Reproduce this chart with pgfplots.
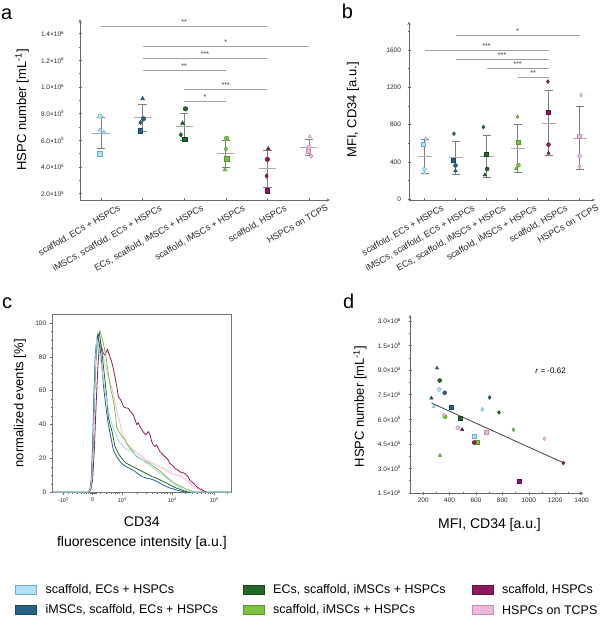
\documentclass[border=0pt]{standalone}
\usepackage{fontspec}
\setmainfont{Liberation Sans}
\usepackage{pgfplots}
\usepackage{pgfplotstable}
\pgfplotsset{compat=1.18}

% group colours (fill / outline)
\definecolor{cA}{RGB}{178,224,244}\definecolor{cAd}{RGB}{110,170,205}
\definecolor{cB}{RGB}{40,100,136}\definecolor{cBd}{RGB}{25,70,100}
\definecolor{cC}{RGB}{34,104,38}\definecolor{cCd}{RGB}{20,70,25}
\definecolor{cD}{RGB}{124,194,62}\definecolor{cDd}{RGB}{85,150,40}
\definecolor{cE}{RGB}{140,26,94}\definecolor{cEd}{RGB}{100,15,65}
\definecolor{cF}{RGB}{238,184,220}\definecolor{cFd}{RGB}{200,140,185}
\definecolor{axgray}{RGB}{105,105,105}
\definecolor{errgray}{RGB}{125,125,125}
\definecolor{meangray}{RGB}{170,170,170}
\definecolor{sigray}{RGB}{160,160,160}

% per replicate: marker shape, jitter in a, HSPC number, jitter in b, MFI
\pgfplotstableread{
shape dxa hspc dxb mfi
s -0.03 4.98e5 -0.03 590
c -0.02 7.82e5 0.00 322
t -0.02 6.78e5 0.00 281
d 0.07 6.60e5 0.05 648
}\gA
\pgfplotstableread{
shape dxa hspc dxb mfi
s -0.06 6.71e5 -0.06 414
c 0.02 7.62e5 0.00 363
t 0.00 9.13e5 0.00 305
d -0.05 7.33e5 -0.05 703
}\gB
\pgfplotstableread{
shape dxa hspc dxb mfi
s 0.01 6.08e5 0.00 479
c 0.03 8.37e5 0.02 325
t -0.04 7.29e5 -0.05 262
d -0.08 6.42e5 -0.10 774
}\gC
\pgfplotstableread{
shape dxa hspc dxb mfi
s 0.02 4.63e5 0.02 612
c 0.02 6.16e5 0.03 366
t -0.02 3.80e5 -0.04 327
d 0.00 5.36e5 0.00 884
}\gD
\pgfplotstableread{
shape dxa hspc dxb mfi
s 0.00 2.23e5 0.00 930
c 0.00 4.58e5 0.00 586
t 0.02 5.37e5 0.00 495
d -0.02 3.33e5 -0.02 1262
}\gE
\pgfplotstableread{
shape dxa hspc dxb mfi
s -0.02 5.24e5 -0.02 680
c 0.00 5.48e5 0.00 462
t 0.02 6.27e5 0.00 357
d 0.05 4.82e5 0.05 1118
}\gF
% group mean and standard deviation
\pgfplotstableread{
g mA sA mB sB
0 6.545e5 1.174e5 460.3 185.6
1 7.698e5 1.028e5 446.3 176.9
2 7.040e5 1.023e5 460.0 228.3
3 4.988e5 1.009e5 547.3 257.5
4 3.878e5 1.383e5 818.3 350.2
5 5.453e5 0.610e5 654.3 337.2
}\stats

% CD34 histograms (display position, normalized events)
\pgfplotstableread{
x y
52.7 0
88.7 0
90.3 2
91.7 8
93.0 25
94.3 55
95.7 80
96.7 91
98.0 88
99.7 82
101.7 74
103.3 67
105.0 60
107.0 54
109.0 47
111.0 42
113.3 38
116.0 34
119.0 30
122.0 28
125.0 26
128.3 25
131.7 24
135.0 22.5
138.3 21
141.7 19.5
145.0 18
148.3 16.5
151.7 15
155.0 13.5
158.3 12
161.7 10.5
165.0 9
168.3 7.5
171.7 6
175.0 4.5
178.3 3.3
181.7 2.2
185.0 1.3
188.3 0.6
192.0 0
231 0
}\hA
\pgfplotstableread{
x y
52.7 0
88.7 0
90.0 2
91.3 8
92.7 30
94.0 60
95.3 82
96.7 90
97.7 93
99.0 88
100.0 86
101.7 76
103.3 64
105.0 55
106.7 46.7
108.3 40
110.0 35
111.7 30
113.3 25
115.0 23
116.7 21
119.0 19
121.7 17
124.0 16
126.7 15
130.0 14
133.3 13
136.7 11.5
140.0 10
143.3 9
146.7 8.3
150.0 8
153.3 7.3
156.7 6.5
160.0 5.3
163.3 4.3
166.7 3.3
170.0 2.5
173.3 2
176.7 1.3
180.0 0.8
183.3 0.4
186.7 0
231 0
}\hB
\pgfplotstableread{
x y
52.7 0
88.7 0
90.3 2
91.7 8
93.0 28
94.3 58
95.7 80
97.0 90
99.3 94
100.3 90
101.7 84
103.3 75
105.0 66
106.7 56.5
108.3 44.7
110.0 40
111.7 36.8
113.3 32
115.0 27
116.7 25
118.3 23
120.0 21.5
121.7 20
124.0 18.5
126.7 17
130.0 16
133.3 15
136.7 14
140.0 13
143.3 12
146.7 11
150.0 10
151.7 9.3
155.0 8.8
156.7 8.3
160.0 7.3
163.3 6.3
166.7 5.5
170.0 4.3
173.3 3.3
176.7 2.4
180.0 1.7
183.3 1
186.7 0.4
190.0 0
231 0
}\hC
\pgfplotstableread{
x y
52.7 0
88.7 0
90.3 2
91.7 8
93.0 25
94.3 52
95.7 75
97.3 88
99.0 93
100.0 95.5
101.0 93
103.3 88
106.0 80
108.3 70
110.7 61
113.3 54.5
115.0 48
116.7 38.8
118.3 36
120.0 35
121.7 33
123.3 32
125.0 31
127.0 28.5
130.0 26
133.3 24
136.7 21
140.0 20
143.3 19
146.7 18
150.0 17
153.3 15.5
156.7 14
160.0 12.5
163.3 11
166.7 9
170.0 7.3
173.3 5.8
176.7 4.7
180.0 3.6
183.3 2.8
186.7 1.8
190.0 1
193.3 0.4
196.7 0
231 0
}\hD
\pgfplotstableread{
x y
52.7 0
89.3 0
91.0 2
92.7 8
94.3 25
96.0 50
97.7 72
99.0 84
100.0 89
101.0 87
103.3 82
105.0 81
107.3 84.4
108.3 83
110.0 80
111.7 77
113.3 73
115.0 68
116.7 63
118.3 56.5
120.7 54.5
122.0 53
123.3 50.6
125.0 50
128.3 49.6
130.0 48
133.3 45.7
135.0 43
136.7 40
138.3 41
140.0 38.8
142.0 37
144.0 35
146.0 34
148.3 35.8
150.0 34
151.7 30
153.3 28
155.0 27
156.7 28
158.3 26
160.0 24
163.3 22
165.0 21
168.3 19
170.0 17
173.3 15.5
175.0 14
178.3 13
180.0 12
183.3 11.5
185.0 11
186.7 10
188.3 9
190.0 7
193.3 5.5
196.7 3.3
200.0 2
203.3 1
206.7 0
231 0
}\hE
\pgfplotstableread{
x y
52.7 0
88.7 0
90.3 2
91.7 8
93.0 25
94.3 52
95.7 75
97.3 87
99.0 90
101.0 86
103.3 80
106.7 72
108.3 68
111.7 62
113.3 58
116.7 48.6
119.0 43
121.7 36.8
123.3 33
126.7 29
130.0 27
133.3 25
136.7 23.5
140.0 22
143.3 20.5
146.7 19
150.0 18
153.3 17
156.7 16
160.0 15
163.3 14
166.7 13
170.0 11.5
173.3 10.8
176.7 10
181.7 9
183.3 8.5
186.7 7.3
191.7 4.3
196.7 2.4
201.7 0.4
205.0 0
231 0
}\hF

\pgfplotsset{
  grp/.style 2 args={scatter, only marks, point meta=explicit symbolic,
    mark options={line width=0.4pt},
    scatter/classes={
      s={mark=square*, draw=#2, fill=#1},
      c={mark=*, draw=#2, fill=#1},
      t={mark=triangle*, draw=#2, fill=#1},
      d={mark=diamond*, draw=#2, fill=#1}}},
  panel/.style={
    scale only axis, anchor=south west, clip=false,
    axis line style={-, draw=axgray, line width=0.5pt},
    tick style={draw=axgray, line width=0.5pt},
    tick align=outside, major tick length=3pt, minor tick length=1.6pt,
    tick label style={font=\fontsize{6.5}{7}\selectfont, text=black!85},
    label style={font=\fontsize{13}{15}\selectfont},
    /pgf/number format/assume math mode=true,
    /pgf/number format/1000 sep={},
    scaled ticks=false},
  catx/.style={
    xmin=-0.5, xmax=5.5, xtick={0,1,2,3,4,5},
    xticklabels={{scaffold, ECs + HSPCs}, {iMSCs, scaffold, ECs + HSPCs},
      {ECs, scaffold, iMSCs + HSPCs}, {scaffold, iMSCs + HSPCs},
      {scaffold, HSPCs}, {HSPCs on TCPS}},
    xticklabel style={font=\fontsize{9}{10}\selectfont, xshift=17pt, yshift=-1pt,
      rotate=30, anchor=north east, inner sep=1pt}},
}
\tikzset{
  sig/.style={draw=sigray, line width=0.6pt},
  star/.style={font=\fontsize{7}{7}\selectfont, text=black!80, above, inner sep=1.5pt},
}
% one legend entry: fill, outline, x, y, text
\newcommand{\legitem}[5]{%
  \filldraw[fill=#1, draw=#2, line width=0.5pt] (#3,#4-4.5) rectangle ++(21,9);
  \node[anchor=west, inner sep=0, font=\fontsize{12.5}{14}\selectfont] at (#3+30,#4) {#5};}

\begin{document}
\begin{tikzpicture}[x=1pt,y=1pt]
\path[use as bounding box] (0,0) rectangle (600,617);

% ---------------- a: HSPC number per condition
\begin{axis}[panel, catx, at={(80.2pt,417pt)}, width=249.6pt, height=180pt,
  ymin=1.53e5, ymax=1.503e6, axis lines=left,
  ytick={2e5,4e5,6e5,8e5,1e6,1.2e6,1.4e6},
  yticklabels={2.0×10\textsuperscript{5},4.0×10\textsuperscript{5},6.0×10\textsuperscript{5},
    8.0×10\textsuperscript{5},1.0×10\textsuperscript{6},1.2×10\textsuperscript{6},1.4×10\textsuperscript{6}},
  minor ytick={3e5,5e5,7e5,9e5,1.1e6,1.3e6,1.5e6},
  yticklabel style={xshift=-11pt},
  ylabel={HSPC number [mL\textsuperscript{-1}]},
  ylabel style={at={(axis description cs:-0.233,0.5)}, anchor=center}]
\addplot[only marks, mark=-, mark size=8.5pt, mark options={draw=meangray, line width=0.8pt},
  error bars/.cd, y dir=both, y explicit,
  error bar style={draw=errgray, line width=0.7pt},
  error mark options={rotate=90, mark size=4.2pt, draw=errgray, line width=0.7pt}]
  table[x=g, y=mA, y error=sA]{\stats};
\addplot[grp={cA}{cAd}, mark size=2.3pt] table[x expr=0+\thisrow{dxa}, y=hspc, meta=shape]{\gA};
\addplot[grp={cB}{cBd}, mark size=2.3pt] table[x expr=1+\thisrow{dxa}, y=hspc, meta=shape]{\gB};
\addplot[grp={cC}{cCd}, mark size=2.3pt] table[x expr=2+\thisrow{dxa}, y=hspc, meta=shape]{\gC};
\addplot[grp={cD}{cDd}, mark size=2.3pt] table[x expr=3+\thisrow{dxa}, y=hspc, meta=shape]{\gD};
\addplot[grp={cE}{cEd}, mark size=2.3pt] table[x expr=4+\thisrow{dxa}, y=hspc, meta=shape]{\gE};
\addplot[grp={cF}{cFd}, mark size=2.3pt] table[x expr=5+\thisrow{dxa}, y=hspc, meta=shape]{\gF};
\draw[sig] (axis cs:0,1.458e6) -- node[star]{**} (axis cs:4,1.458e6);
\draw[sig] (axis cs:1,1.308e6) -- node[star]{*} (axis cs:5,1.308e6);
\draw[sig] (axis cs:1,1.215e6) -- node[star]{***} (axis cs:4,1.215e6);
\draw[sig] (axis cs:1,1.128e6) -- node[star]{**} (axis cs:3,1.128e6);
\draw[sig] (axis cs:2,0.983e6) -- node[star]{***} (axis cs:4,0.983e6);
\draw[sig] (axis cs:2,0.895e6) -- node[star]{*} (axis cs:3,0.895e6);
\end{axis}

% ---------------- b: CD34 MFI per condition
\begin{axis}[panel, catx, at={(409pt,417pt)}, width=186pt, height=178.3pt,
  ymin=-7.5, ymax=1904, axis lines=left,
  ytick={0,400,800,1200,1600}, minor ytick={200,600,1000,1400,1800},
  yticklabel style={xshift=-3pt},
  ylabel={MFI, CD34 [a.u.]},
  ylabel style={at={(axis description cs:-0.301,0.505)}, anchor=center}]
\addplot[only marks, mark=-, mark size=7pt, mark options={draw=meangray, line width=0.8pt},
  error bars/.cd, y dir=both, y explicit,
  error bar style={draw=errgray, line width=0.7pt},
  error mark options={rotate=90, mark size=4pt, draw=errgray, line width=0.7pt}]
  table[x=g, y=mB, y error=sB]{\stats};
\addplot[grp={cA}{cAd}, mark size=2pt] table[x expr=0+\thisrow{dxb}, y=mfi, meta=shape]{\gA};
\addplot[grp={cB}{cBd}, mark size=2pt] table[x expr=1+\thisrow{dxb}, y=mfi, meta=shape]{\gB};
\addplot[grp={cC}{cCd}, mark size=2pt] table[x expr=2+\thisrow{dxb}, y=mfi, meta=shape]{\gC};
\addplot[grp={cD}{cDd}, mark size=2pt] table[x expr=3+\thisrow{dxb}, y=mfi, meta=shape]{\gD};
\addplot[grp={cE}{cEd}, mark size=2pt] table[x expr=4+\thisrow{dxb}, y=mfi, meta=shape]{\gE};
\addplot[grp={cF}{cFd}, mark size=2pt] table[x expr=5+\thisrow{dxb}, y=mfi, meta=shape]{\gF};
\draw[sig] (axis cs:1,1754) -- node[star]{*} (axis cs:5,1754);
\draw[sig] (axis cs:0,1594) -- node[star]{***} (axis cs:4,1594);
\draw[sig] (axis cs:1,1501) -- node[star]{***} (axis cs:4,1501);
\draw[sig] (axis cs:2,1405) -- node[star]{***} (axis cs:4,1405);
\draw[sig] (axis cs:3,1308) -- node[star]{**} (axis cs:4,1308);
\end{axis}

% ---------------- c: CD34 histograms
\begin{axis}[panel, at={(52.7pt,124.7pt)}, width=178.3pt, height=178pt,
  xmin=52.7, xmax=231, ymin=0, ymax=105.1, clip=true,
  axis line style={-, draw=black!55, line width=0.5pt}, tick pos=left,
  xtick={63.3,92.7,122.3,172.3,214.3},
  xticklabels={-10\textsuperscript{3},0,10\textsuperscript{3},10\textsuperscript{4},10\textsuperscript{5}},
  xticklabel style={font=\fontsize{5.5}{6}\selectfont, yshift=1pt},
  minor xtick={68.3,72.7,77.3,81.3,84.3,86.7,88.7,90,91,91.8,93.6,94.5,95.4,96.3,100,106,111.7,115,117.3,119.3,
    137.4,146.2,152.4,157.2,161.2,164.6,167.5,170,184.9,192.3,197.6,201.7,205,207.8,210.2,212.3,226.9},
  ytick={0,20,40,60,80,100}, minor y tick num=3,
  ylabel={normalized events [\%]},
  ylabel style={at={(axis description cs:-0.183,0.5)}, anchor=center},
  xlabel={CD34\\fluorescence intensity [a.u.]},
  xlabel style={at={(axis description cs:0.5,-0.12)}, anchor=north, align=center,
    font=\fontsize{14}{20}\selectfont}]
\addplot[cE, line width=0.8pt] table[x=x, y=y]{\hE};
\addplot[cF, line width=0.8pt] table[x=x, y=y]{\hF};
\addplot[cD, line width=0.8pt] table[x=x, y=y]{\hD};
\addplot[cC, line width=0.8pt] table[x=x, y=y]{\hC};
\addplot[cB, line width=0.8pt] table[x=x, y=y]{\hB};
\addplot[cA!80!cAd, line width=0.8pt] table[x=x, y=y]{\hA};
\end{axis}

% ---------------- d: HSPC number vs. CD34 MFI
\begin{axis}[panel, at={(410pt,123.7pt)}, width=172.9pt, height=178.3pt,
  xmin=100, xmax=1410, ymin=1.48e5, ymax=1.237e6, axis lines=left,
  xtick={200,400,600,800,1000,1200,1400},
  minor xtick={100,300,500,700,900,1100,1300},
  ytick={1.5e5,3e5,4.5e5,6e5,7.5e5,9e5,1.05e6,1.2e6},
  yticklabels={1.5×10\textsuperscript{5},3.0×10\textsuperscript{5},4.5×10\textsuperscript{5},
    6.0×10\textsuperscript{5},7.5×10\textsuperscript{5},9.0×10\textsuperscript{5},
    1.5×10\textsuperscript{6},3.0×10\textsuperscript{6}},
  minor ytick={2.25e5,3.75e5,5.25e5,6.75e5,8.25e5,9.75e5,1.125e6},
  yticklabel style={xshift=-4pt},
  ylabel={HSPC number [mL\textsuperscript{-1}]},
  ylabel style={at={(axis description cs:-0.289,0.486)}, anchor=center},
  xlabel={MFI, CD34 [a.u.]},
  xlabel style={at={(axis description cs:0.46,-0.12)}, anchor=north,
    font=\fontsize{14}{16}\selectfont}]
\addplot[black!75, line width=0.8pt] coordinates {(263,6.99e5) (1266,3.33e5)};
\addplot[grp={cA}{cAd}, mark size=2pt] table[x=mfi, y=hspc, meta=shape]{\gA};
\addplot[grp={cB}{cBd}, mark size=2pt] table[x=mfi, y=hspc, meta=shape]{\gB};
\addplot[grp={cC}{cCd}, mark size=2pt] table[x=mfi, y=hspc, meta=shape]{\gC};
\addplot[grp={cD}{cDd}, mark size=2pt] table[x=mfi, y=hspc, meta=shape]{\gD};
\addplot[grp={cE}{cEd}, mark size=2pt] table[x=mfi, y=hspc, meta=shape]{\gE};
\addplot[grp={cF}{cFd}, mark size=2pt] table[x=mfi, y=hspc, meta=shape]{\gF};
\node[font=\fontsize{8}{9}\selectfont, anchor=center] at (axis cs:1165,8.95e5) {\textit{r} = -0.62};
\end{axis}

% ---------------- panel letters
\node[anchor=base west, inner sep=0, font=\fontsize{20}{20}\selectfont] at (1,597) {a};
\node[anchor=base west, inner sep=0, font=\fontsize{20}{20}\selectfont] at (341.7,598.7) {b};
\node[anchor=base west, inner sep=0, font=\fontsize{20}{20}\selectfont] at (2,308) {c};
\node[anchor=base west, inner sep=0, font=\fontsize{20}{20}\selectfont] at (343,308.7) {d};

% ---------------- shared legend
\legitem{cA}{cAd}{15.4}{27}{scaffold, ECs + HSPCs}
\legitem{cB}{cBd}{15.4}{7}{iMSCs, scaffold, ECs + HSPCs}
\legitem{cC}{cCd}{243}{27}{ECs, scaffold, iMSCs + HSPCs}
\legitem{cD}{cDd}{243}{7}{scaffold, iMSCs + HSPCs}
\legitem{cE}{cEd}{472}{27}{scaffold, HSPCs}
\legitem{cF}{cFd}{472}{7}{HSPCs on TCPS}
\end{tikzpicture}
\end{document}
